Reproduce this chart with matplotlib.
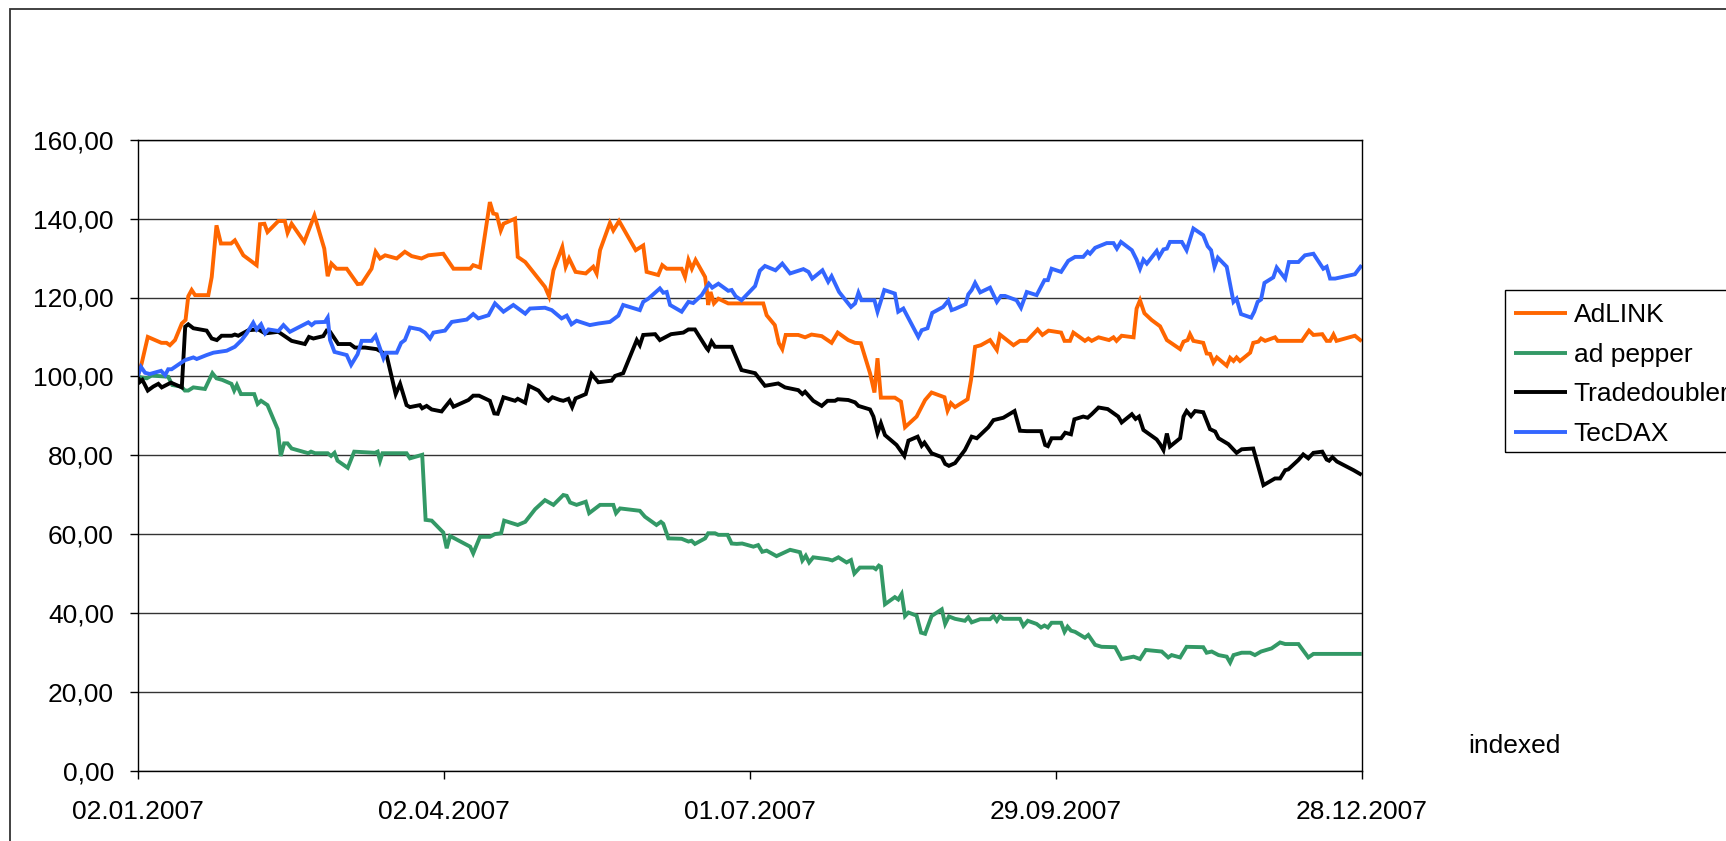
import datetime as dt
import numpy as np
import matplotlib
matplotlib.use("Agg")
import matplotlib.pyplot as plt
import matplotlib.dates as mdates
from matplotlib.ticker import FuncFormatter, FixedLocator
from matplotlib.patches import Rectangle

# ---------------- data ----------------
start_date = dt.date(2007, 1, 2)
tick_days = [0, 90, 180, 270, 360]
y_ticks = [0, 20, 40, 60, 80, 100, 120, 140, 160]
series_names = ["AdLINK", "ad pepper", "Tradedoubler", "TecDAX"]
series_colors = ["#FF6600", "#339966", "#000000", "#3366FF"]
side_label = "indexed"

adlink_days = [0, 1.2, 3, 5.1, 7, 8.5, 9.5, 11, 13, 14.1, 14.9, 15.9, 16.9, 20.8, 21.8, 23.2, 24.5, 27.5,
               28.6, 31.1, 35, 36, 37.3, 38.2, 41.4, 43.3, 44.1, 45.3, 49, 52, 54.9, 55.9, 57, 58.5, 61.5,
               64.7, 65.9, 68.8, 70, 71.3, 72.8, 76.2, 78.6, 80.6, 83.5, 85.5, 89.9, 92.9, 97.8, 98.7,
               100.7, 103.6, 104.6, 105.6, 106.8, 107.6, 111, 111.8, 114, 119.8, 121, 122.3, 124.9,
               125.9, 126.9, 128.8, 131.8, 134, 135, 136, 138.9, 139.9, 141.6, 146.5, 148.7, 149.7,
               153.1, 154.3, 155.6, 160, 161, 162, 163, 164.1, 166.9, 167.4, 167.8, 168.5, 169.5, 170.8,
               173.7, 184, 185, 187.4, 188.6, 189.6, 190.6, 194.3, 196.3, 198.2, 201.2, 204.1, 205.9,
               209, 211, 212.7, 215.4, 216.7, 217.6, 218.6, 222.7, 224.5, 225.7, 229.1, 231.6, 233.5,
               237.3, 238.2, 239.2, 240.4, 244.1, 245.1, 246.3, 248, 250.7, 252.7, 253.6, 257.6, 259.5,
               261.5, 264.7, 266.1, 267.9, 271.6, 272.6, 274.2, 275.2, 278.6, 279.6, 280.6, 282.6,
               285.7, 287, 287.9, 289.4, 292.9, 293.8, 294.8, 296.1, 298.2, 300.7, 302.7, 306.6, 307.6,
               308.8, 309.5, 310.5, 313.4, 314.4, 315.4, 316.4, 317.4, 320.3, 321.3, 322.3, 323.2,
               324.2, 327.2, 328.1, 329.6, 330.4, 331.6, 334.5, 335.3, 337.5, 342.4, 344.5, 345.8,
               348.4, 349.7, 350.7, 351.7, 352.6, 358, 360]
adlink_vals = [100, 103.3, 110, 109.2, 108.5, 108.5, 107.9, 109.2, 113.4, 114.3, 120.3, 121.9, 120.6, 120.6,
               125.2, 138.3, 133.7, 133.7, 134.5, 130.7, 128.2, 138.6, 138.7, 136.6, 139.4, 139.4, 136.4,
               138.7, 134.1, 140.8, 132.4, 125.4, 128.6, 127.3, 127.3, 123.4, 123.5, 127.3, 131.6, 129.9,
               130.7, 129.9, 131.6, 130.5, 129.9, 130.7, 131.1, 127.3, 127.3, 128.2, 127.6, 144.2, 141.3,
               141.1, 137, 138.7, 140, 130.3, 129, 122.7, 120.3, 126.9, 132.8, 127.8, 129.9, 126.5, 126.1,
               127.8, 126.1, 132, 138.9, 137, 139.4, 132, 133.2, 126.5, 125.7, 128.2, 127.3, 127.3, 125.2,
               129.5, 127.3, 129.5, 125.2, 121.9, 118.1, 121.4, 118.5, 119.7, 118.5, 118.5, 115.5, 113,
               108.4, 106.9, 110.5, 110.5, 109.9, 110.6, 110.2, 108.5, 111.1, 109.2, 108.5, 108.4, 100.8,
               95.9, 104.6, 94.6, 94.6, 93.6, 87.1, 89.8, 94, 95.9, 94.7, 91.3, 93.2, 92.2, 94.2, 99.1,
               107.5, 107.9, 109.2, 106.7, 110.6, 107.9, 109, 109, 111.9, 110.5, 111.6, 111.1, 109, 109,
               111.1, 109, 109.6, 109, 109.9, 109.2, 109.9, 109, 110.3, 109.9, 117.2, 119.3, 116, 114.3,
               112.7, 109.2, 106.9, 108.8, 109.2, 110.7, 109, 108.5, 105.8, 105.7, 103.5, 104.8, 102.7,
               104.7, 103.9, 104.8, 103.9, 106, 108.5, 108.8, 109.6, 109, 109.9, 109, 109, 109, 111.6,
               110.5, 110.7, 109, 109, 110.6, 109, 110.3, 108.9]

pepper_days = [0, 1.2, 2.7, 4.1, 9, 10.2, 12.9, 13.9, 14.9, 16.4, 19.8, 22, 23.2, 24.9, 27.6, 28.4, 29.2,
               30.4, 34.3, 35.3, 36.3, 38.2, 41.2, 42.1, 43.1, 44.1, 45.3, 50.2, 51, 52.2, 55.9, 56.9,
               57.9, 58.8, 61.8, 63.7, 69.8, 70.6, 71.3, 72, 79.1, 80.1, 83.7, 84.7, 86.5, 89.9, 90.9,
               91.9, 97.8, 98.7, 100.7, 103.6, 105.1, 106.9, 107.8, 111.8, 114, 116.9, 119.8, 122.3,
               125.2, 126.2, 127.2, 129.1, 131.8, 132.8, 136, 139.9, 140.7, 141.9, 147.7, 149.2, 152.6,
               153.9, 154.6, 156.1, 160, 162, 162.9, 163.9, 166.9, 167.8, 169.8, 170.8, 173.5, 174.7,
               176.2, 177.8, 181.1, 182.5, 183.7, 185, 187.9, 191.9, 194.8, 195.5, 196.5, 197.5, 198.7,
               203.1, 204.3, 206.1, 208.5, 209.8, 210.8, 212.4, 216.4, 217.1, 218, 218.6, 219.8, 222.7,
               223.7, 224.7, 225.7, 226.7, 229.1, 230.4, 231.6, 233.5, 236.5, 237.5, 238.6, 240.4,
               243.3, 244.3, 245.3, 247.8, 250.7, 251.7, 252.7, 253.6, 254.6, 259.5, 260.5, 261.8,
               264.4, 265.7, 266.7, 267.7, 268.8, 271.6, 272.6, 273.5, 274.5, 275.7, 278.6, 279.6,
               281.6, 283.5, 287.5, 289.4, 292.9, 294.8, 296.5, 301.2, 303.1, 304.1, 306.6, 308.5,
               313.4, 314.4, 315.9, 317.9, 320.3, 321.3, 322.3, 324.7, 327.2, 328.6, 330.4, 333.5, 336,
               337.5, 341.4, 344.3, 345.8, 360]
pepper_vals = [100, 99.7, 99.5, 100.2, 99.9, 97.8, 97.4, 96.4, 96.4, 97.2, 96.8, 100.8, 99.5, 99.1, 98.1,
               96.4, 97.8, 95.5, 95.5, 93, 93.8, 92.7, 86.6, 79.8, 83, 83, 81.7, 80.5, 80.9, 80.5, 80.5,
               79.8, 80.6, 78.6, 76.8, 80.9, 80.6, 80.9, 78.6, 80.5, 80.5, 79.2, 80.1, 63.6, 63.4, 60.4,
               56.4, 59.5, 56.8, 55.1, 59.3, 59.3, 60, 60.2, 63.4, 62.3, 63.1, 66.3, 68.6, 67.4, 69.9,
               69.7, 68, 67.4, 68.2, 65.3, 67.4, 67.4, 65.3, 66.5, 65.9, 64.4, 62.3, 63.1, 62.6, 58.9,
               58.8, 58.1, 58.3, 57.5, 58.9, 60.2, 60.2, 59.8, 59.8, 57.6, 57.5, 57.6, 56.8, 57.2, 55.5,
               55.8, 54.4, 56, 55.4, 53.3, 54.5, 52.8, 54.1, 53.6, 53.3, 54.1, 52.8, 53.4, 50, 51.5, 51.5,
               51.1, 52, 51.7, 42.2, 44, 43.4, 44.8, 39.2, 40.1, 39.3, 35, 34.7, 39.2, 40.9, 37.2, 39.1,
               38.5, 38, 38.9, 37.6, 38.4, 38.4, 39.2, 38, 39.2, 38.5, 38.5, 36.7, 38, 37.2, 36.3, 36.8,
               36.3, 37.5, 37.5, 35.2, 36.5, 35.5, 35.2, 33.7, 34.4, 31.9, 31.4, 31.3, 28.3, 28.9, 28.3,
               30.6, 30.2, 28.7, 29.3, 28.7, 31.4, 31.3, 29.9, 30.2, 29.3, 28.9, 27.4, 29.3, 29.9, 29.9,
               29.3, 30.2, 31, 32.5, 32.1, 32.1, 28.7, 29.6, 29.6]

trade_days = [0, 0.7, 1.4, 3, 4.6, 6.1, 7.1, 9.8, 13, 14, 14.9, 16.4, 20.3, 21.8, 23.3, 24.7, 27.7, 28.6,
              29.6, 32.6, 35.5, 37.5, 41.4, 44.3, 45.3, 49.2, 50.4, 51.7, 54.6, 55.6, 56.6, 59, 62.5,
              63.9, 66.9, 70.3, 71.8, 73.3, 74.7, 75.9, 77.2, 79.1, 80.1, 83, 83.7, 85, 86.5, 89.4, 90.4,
              91.9, 92.9, 97.3, 98.7, 100.4, 103.6, 104.9, 105.9, 107.6, 111, 111.8, 114, 115.1, 117.9,
              119.8, 120.8, 122, 124.2, 125.2, 126.7, 127.8, 128.8, 131.8, 133.5, 135.5, 139.4, 140.4,
              142.8, 146.8, 147.7, 148.7, 152.2, 153.6, 156.9, 160.5, 162, 163.9, 167.4, 167.8, 168.8,
              169.8, 174.7, 177.6, 181.6, 184.5, 188.4, 190.4, 194.3, 195.5, 196.3, 198.7, 201.2, 202.9,
              205.1, 205.9, 209, 211, 212, 215.4, 216.4, 217.6, 218.6, 219.8, 223.2, 225.5, 226.7,
              229.4, 230.6, 231.4, 233.5, 236.5, 237.5, 238.6, 240.4, 243.3, 245.3, 246.8, 250.2,
              251.7, 254.6, 257.9, 259.5, 261.5, 265.7, 266.9, 267.7, 268.8, 271.6, 272.8, 274.5,
              275.5, 278.1, 279.4, 280.6, 282.6, 285.3, 288.4, 289.4, 292.4, 293.5, 294.5, 295.8,
              299.7, 300.7, 301.7, 302.7, 303.6, 306.6, 307.6, 308.5, 309.8, 311, 313.4, 315.4, 316.9,
              317.9, 320.8, 323.2, 324.7, 328.1, 331.1, 334.5, 336, 337.5, 338.4, 341.4, 342.8, 344.3,
              345.8, 348.4, 349.7, 350.4, 351.4, 352.7, 357.6, 360]
trade_vals = [100, 98.6, 99.1, 96.4, 97.4, 98.1, 97.2, 98.4, 97.2, 112.6, 113.2, 112.2, 111.6, 109.6,
              109.2, 110.3, 110.3, 110.6, 110.3, 111.7, 111.9, 110.9, 111.3, 109.6, 109, 108.2, 110,
              109.6, 110.2, 111.6, 111.3, 108.2, 108.2, 107.3, 107.3, 106.9, 106.2, 105.1, 99.9, 95.5,
              98.1, 92.7, 92.2, 92.7, 91.9, 92.5, 91.6, 91.1, 92.2, 93.8, 92.3, 94, 95.1, 95.1, 93.8,
              90.6, 90.5, 94.7, 93.8, 94.3, 93.3, 97.6, 96.4, 94.4, 93.8, 94.7, 94, 93.8, 94.3, 92.2,
              94.4, 95.5, 100.6, 98.5, 98.9, 100.1, 100.8, 109.2, 107.9, 110.5, 110.7, 109.2, 110.7,
              111.1, 111.9, 111.9, 107.1, 106.7, 108.8, 107.5, 107.5, 101.6, 100.8, 97.6, 98.2, 97.2,
              96.5, 95.5, 96.1, 93.8, 92.5, 93.8, 93.8, 94.2, 94, 93.4, 92.5, 91.6, 89.8, 85.6, 88.1,
              85.1, 82.6, 79.8, 83.7, 84.7, 82.4, 83.2, 80.5, 79.5, 77.8, 77.3, 78, 81.3, 84.7, 84.3,
              87.1, 88.9, 89.5, 91.2, 86.2, 86.1, 86.1, 82.6, 82.3, 84.3, 84.3, 85.7, 85.3, 89.1, 89.8,
              89.5, 90.4, 92.1, 91.7, 89.8, 88.3, 90.4, 89.2, 89.8, 86.4, 84, 82.8, 81.3, 85.5, 82.2,
              84.3, 89.8, 91.2, 89.9, 91.2, 90.9, 86.6, 86, 84.3, 82.8, 80.6, 81.5, 81.7, 72.4, 74.1,
              74.1, 76.2, 76.4, 78.8, 80.2, 79.2, 80.6, 80.9, 78.9, 78.6, 79.5, 78.4, 76.2, 75]

tecdax_days = [0, 1, 2.2, 3.6, 6.9, 8.1, 9, 10, 13.9, 16.4, 17.4, 20.3, 22.3, 26.2, 28.6, 30.6, 32.1, 34,
               35, 36.3, 37.5, 38.5, 41.4, 42.9, 44.8, 50.2, 51.2, 52.2, 55.1, 55.9, 56.6, 57.9, 61.5,
               62.8, 64, 64.7, 65.9, 68.8, 70, 72.3, 73, 76.2, 77.5, 78.6, 80.1, 83, 84.5, 86, 87, 90.4,
               92.4, 96.8, 98.7, 100.2, 103.2, 105.1, 107.6, 110.5, 114, 115.4, 119.8, 121.8, 124.7,
               126.2, 127.6, 129.1, 133, 135.5, 138.9, 141.4, 142.8, 147.7, 148.7, 150.2, 153.6, 154.6,
               155.6, 156.6, 160, 162, 163.4, 165.9, 168, 169, 170.8, 173.7, 174.7, 175.9, 177.6, 181.6,
               183, 184.5, 187.6, 189.6, 191.9, 195.8, 197.3, 198.4, 201.4, 203.1, 204.1, 206.3, 209.8,
               211, 212, 212.9, 216.7, 217.6, 219.6, 222.7, 223.7, 225.2, 229.6, 230.6, 232.3, 233.7,
               236.9, 238.4, 239.4, 240.4, 243.5, 244.3, 245.3, 246.3, 247.8, 250.7, 252.7, 253.9,
               255.1, 258.5, 259.8, 261.5, 264.4, 266.7, 267.7, 268.8, 271.6, 273.7, 275.7, 278.1,
               279.4, 280.1, 281.6, 285, 287, 288, 289.2, 292.4, 293.8, 294.8, 295.8, 296.8, 299.7,
               300.4, 301.7, 302.7, 303.6, 307.1, 308.5, 310.5, 313.4, 314.7, 315.7, 316.7, 317.7,
               320.3, 322.3, 323.2, 324.5, 327.5, 328.4, 329.4, 330.4, 331.4, 334, 335, 337.5, 338.6,
               341.4, 343.3, 345.8, 348.7, 349.7, 350.7, 352.2, 358, 360]
tecdax_vals = [100, 102.4, 100.9, 100.6, 101.4, 100.3, 101.8, 101.8, 104.1, 104.8, 104.4, 105.4, 106,
               106.5, 107.5, 109.2, 110.9, 113.6, 111.9, 113.2, 110.9, 111.9, 111.5, 113, 111.3, 113.7,
               113, 113.7, 113.8, 114.9, 109.2, 106.2, 105.4, 102.9, 104.6, 105.6, 109, 109, 110.3,
               104.6, 106, 106, 108.5, 109.2, 112.4, 111.9, 111.1, 109.6, 111.1, 111.6, 113.8, 114.4,
               115.8, 114.7, 115.5, 118.5, 116.4, 118.1, 115.9, 117.2, 117.4, 116.8, 114.7, 115.4, 113.2,
               114.1, 113, 113.4, 113.8, 115.4, 118.1, 116.8, 118.9, 119.7, 122.3, 121.2, 121.4, 118.1,
               116.4, 118.9, 118.6, 120.6, 123.5, 122.5, 123.5, 121.7, 121.9, 120.3, 119.3, 122.9,
               126.8, 128, 126.9, 128.6, 126.1, 127.2, 126.5, 124.8, 126.9, 124, 125.4, 121.4, 117.6,
               118.5, 121.2, 119.3, 119.3, 116.4, 121.9, 121, 116.4, 117.2, 110, 111.7, 112.2, 116.1,
               117.6, 119.2, 116.8, 117.1, 118.3, 120.8, 121.9, 123.7, 121.3, 122.5, 118.9, 120.4,
               120.4, 119.3, 117.4, 121.4, 120.6, 124.4, 124.4, 127.3, 126.5, 129.3, 130.3, 130.3,
               131.6, 131.1, 132.6, 133.8, 133.8, 132.4, 134.1, 132, 129.6, 127.3, 129.6, 128.6, 131.8,
               130.3, 132.2, 132.4, 134.1, 134.1, 132, 137.5, 135.8, 133, 132, 127.8, 130.1, 127.8,
               118.9, 119.7, 115.8, 114.9, 116.4, 118.9, 119.5, 123.7, 125.1, 127.6, 124.8, 129, 129,
               130.7, 131.1, 127.3, 127.8, 124.8, 124.8, 125.9, 128.2]

# ---------------- figure ----------------
W, H = 1726, 841
fig = plt.figure(figsize=(W / 100, H / 100), dpi=100, facecolor="white")
plt.rcParams["font.family"] = ["Liberation Sans", "DejaVu Sans"]
FS = 19

left_px, right_px, top_px, bot_px = 137.6, 1361.7, 139.8, 770.6
ax = fig.add_axes([left_px / W, 1 - bot_px / H, (right_px - left_px) / W, (bot_px - top_px) / H])

base = mdates.date2num(start_date)
all_days = [adlink_days, pepper_days, trade_days, tecdax_days]
all_vals = [adlink_vals, pepper_vals, trade_vals, tecdax_vals]
for name, col, d, v in zip(series_names, series_colors, all_days, all_vals):
    ax.plot(base + np.asarray(d), v, color=col, lw=2.8, label=name,
            solid_joinstyle="miter", solid_capstyle="butt")

ax.set_xlim(base + tick_days[0], base + tick_days[-1])
ax.set_ylim(y_ticks[0], y_ticks[-1])
ax.xaxis.set_major_locator(FixedLocator([base + t for t in tick_days]))
ax.xaxis.set_major_formatter(mdates.DateFormatter("%d.%m.%Y"))
ax.yaxis.set_major_locator(FixedLocator(y_ticks))
ax.yaxis.set_major_formatter(FuncFormatter(lambda v, p: f"{v:.2f}".replace(".", ",")))

ax.grid(axis="y", color="#333333", lw=1.0)
ax.set_axisbelow(True)
for s in ax.spines.values():
    s.set_color("#000000")
    s.set_linewidth(1.0)
ax.tick_params(axis="both", direction="out", length=6, width=1, color="#000000",
               labelsize=FS, pad=11)
ax.tick_params(axis="x", pad=15)

# legend: frame drawn separately because it runs past the right edge
fig.patches.append(Rectangle((1505 / W, 1 - 451.5 / H), 300 / W, 161.5 / H,
                             transform=fig.transFigure, fill=False, edgecolor="#000000", lw=1.0))
leg = fig.legend(loc="upper left", bbox_to_anchor=(1505 / W, 1 - 294 / H),
                 bbox_transform=fig.transFigure, borderaxespad=0, frameon=False,
                 fontsize=FS, handlelength=2.0, handletextpad=0.25,
                 labelspacing=0.59, borderpad=0.35)

fig.text(1468 / W, 1 - 753 / H, side_label, fontsize=FS, ha="left", va="baseline")

# outer chart-area border
fig.patches.append(Rectangle((10 / W, -0.05), 1.2, 1 - 9 / H + 0.05, transform=fig.transFigure,
                             fill=False, edgecolor="#333333", lw=1.3))

fig.savefig("out.png", dpi=100, facecolor="white")
